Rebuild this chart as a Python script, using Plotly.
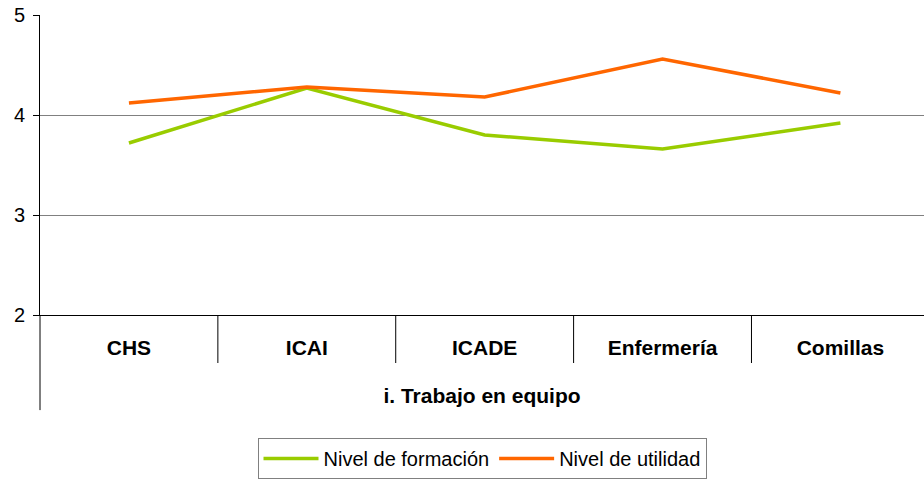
import plotly.graph_objects as go

categories = ["CHS", "ICAI", "ICADE", "Enfermería", "Comillas"]
formacion = [3.72, 4.27, 3.80, 3.66, 3.92]
utilidad = [4.12, 4.28, 4.18, 4.56, 4.22]
y_ticks = [2, 3, 4, 5]
group_title = "i. Trabajo en equipo"

FONT = "Liberation Sans, Arial, sans-serif"

fig = go.Figure()
fig.add_trace(go.Scatter(x=categories, y=formacion, mode="lines", name="Nivel de formación",
                         line=dict(color="#99CC00", width=3.5)))
fig.add_trace(go.Scatter(x=categories, y=utilidad, mode="lines", name="Nivel de utilidad",
                         line=dict(color="#FF6600", width=3.5)))

# category separators below axis
for i in range(1, len(categories) + 1):
    b = i - 0.5
    fig.add_shape(type="line", xref="x", yref="paper", x0=b, x1=b, y0=0, y1=-0.16,
                  line=dict(color="#000000", width=1))
# extended y axis line
fig.add_shape(type="line", xref="paper", yref="paper", x0=0, x1=0, y0=0, y1=-0.317,
              line=dict(color="#000000", width=1))

fig.update_layout(
    width=924, height=483,
    margin=dict(l=40, r=0, t=15, b=168, autoexpand=False),
    paper_bgcolor="white", plot_bgcolor="white",
    font=dict(family=FONT, color="#000000"),
    showlegend=True,
    legend=dict(orientation="h", x=0.5, xanchor="center", y=-0.41, yanchor="top",
                bordercolor="#808080", borderwidth=1, font=dict(size=20, family=FONT),
                itemwidth=55, tracegroupgap=0),
    xaxis=dict(type="category", range=[-0.5, 4.47], showgrid=False, automargin=False,
               showline=True, linecolor="#000000", linewidth=1,
               ticks="", tickfont=dict(size=21, family=FONT, weight="bold"),
               ticklabelstandoff=14,
               title=dict(text="<b>" + group_title + "</b>", font=dict(size=21, family=FONT),
                          standoff=30),
               zeroline=False, fixedrange=True),
    yaxis=dict(range=[2, 5], tickvals=y_ticks, showgrid=True, gridcolor="#808080", gridwidth=1,
               showline=True, linecolor="#000000", linewidth=1, automargin=False,
               ticks="outside", ticklen=6, tickcolor="#000000", ticklabelstandoff=4,
               tickfont=dict(size=20, family=FONT), zeroline=False),
)

fig.write_html("out.html", config={"displayModeBar": False},
               post_script="document.body.style.margin='0';document.body.style.overflow='hidden';")
